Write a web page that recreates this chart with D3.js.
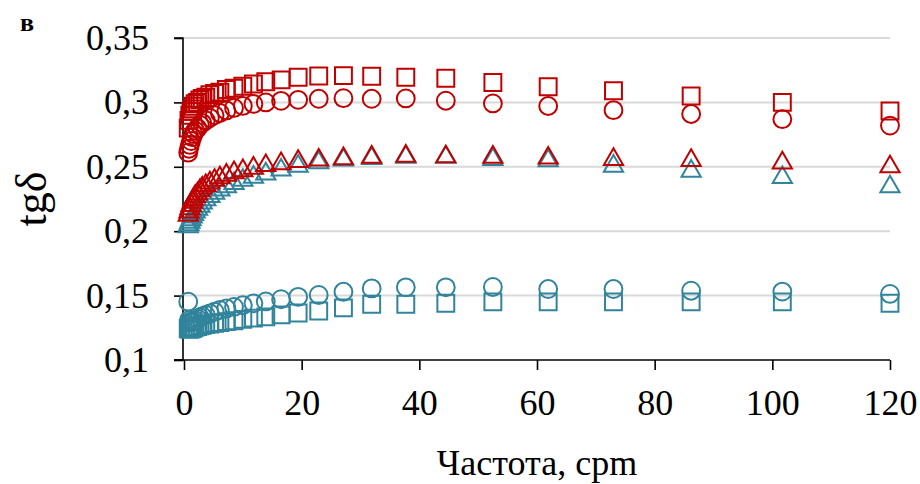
<!DOCTYPE html>
<html>
<head>
<meta charset="utf-8">
<script src="https://cdn.jsdelivr.net/npm/d3@7"></script>
<style>
  html, body { margin: 0; padding: 0; background: #fff; }
  svg { display: block; font-family: "Liberation Serif", "Times New Roman", serif; }
</style>
</head>
<body>
<svg id="chart" width="920" height="484"></svg>
<script>
// Frequency sweep, cpm
const freq = [0.72, 0.85, 1.0, 1.2, 1.4, 1.6, 1.9, 2.3, 2.7, 3.1, 3.7, 4.4, 5.2, 6.1, 7.2, 8.5,
  10.0, 11.8, 13.9, 16.5, 19.4, 22.9, 27.1, 31.9, 37.7, 44.5, 52.5, 61.9, 73.0, 86.2, 101.7, 120];

// Loss tangent, red group
const redSquare = [0.280, 0.286, 0.290, 0.293, 0.295, 0.297, 0.299, 0.300, 0.302, 0.303, 0.304, 0.306,
  0.307, 0.308, 0.310, 0.311, 0.3125, 0.3143, 0.316, 0.3175, 0.3195, 0.3205, 0.3208, 0.3203, 0.3195,
  0.3187, 0.3155, 0.3122, 0.309, 0.305, 0.300, 0.2933];
const redCircle = [0.261, 0.264, 0.267, 0.270, 0.273, 0.2755, 0.278, 0.280, 0.2825, 0.284, 0.286, 0.288,
  0.290, 0.2918, 0.2938, 0.2957, 0.2973, 0.2988, 0.300, 0.3012, 0.302, 0.3028, 0.3033, 0.3028, 0.3031,
  0.3013, 0.2992, 0.2972, 0.294, 0.291, 0.287, 0.282];
const redTriangle = [0.2125, 0.215, 0.2175, 0.220, 0.2225, 0.2245, 0.227, 0.229, 0.2315, 0.2335, 0.2355,
  0.2375, 0.2395, 0.2415, 0.2435, 0.2455, 0.247, 0.249, 0.251, 0.2525, 0.2542, 0.2553, 0.2563, 0.2575,
  0.2583, 0.2578, 0.2575, 0.2568, 0.2558, 0.255, 0.253, 0.250];

// Loss tangent, teal group
const tealTriangle = [0.2035, 0.205, 0.207, 0.209, 0.211, 0.213, 0.215, 0.217, 0.2195, 0.222, 0.2245,
  0.227, 0.2295, 0.232, 0.2345, 0.237, 0.2395, 0.242, 0.2445, 0.2475, 0.2505, 0.2532, 0.2553, 0.2565,
  0.2575, 0.2575, 0.2558, 0.2548, 0.2505, 0.2466, 0.2417, 0.2345];
const tealCircle = [0.1453, 0.131, 0.1295, 0.129, 0.1295, 0.130, 0.131, 0.132, 0.133, 0.134, 0.135,
  0.1362, 0.1375, 0.1388, 0.140, 0.1412, 0.1425, 0.144, 0.1455, 0.1472, 0.149, 0.1505, 0.153, 0.1556,
  0.1564, 0.1564, 0.1567, 0.1551, 0.1551, 0.1538, 0.1531, 0.1513];
const tealSquare = [0.1245, 0.124, 0.124, 0.1242, 0.1245, 0.125, 0.1255, 0.126, 0.1265, 0.127, 0.1275,
  0.128, 0.1285, 0.129, 0.1298, 0.1305, 0.1315, 0.1325, 0.1335, 0.135, 0.1365, 0.138, 0.1405, 0.1433,
  0.1433, 0.1441, 0.1451, 0.1451, 0.1451, 0.1451, 0.1451, 0.1441];

const xTicks = [0, 20, 40, 60, 80, 100, 120];
const yTicks = [0.1, 0.15, 0.2, 0.25, 0.3, 0.35];

const RED = "#C00000";
const TEAL = "#31849B";

const series = [
  { values: tealCircle, color: TEAL, shape: "circle" },
  { values: tealSquare, color: TEAL, shape: "square" },
  { values: tealTriangle, color: TEAL, shape: "triangle" },
  { values: redSquare, color: RED, shape: "square" },
  { values: redCircle, color: RED, shape: "circle" },
  { values: redTriangle, color: RED, shape: "triangle" }
];

const svg = d3.select("#chart");
const x = d3.scaleLinear().domain([0, 120]).range([184, 890]);
const y = d3.scaleLinear().domain([0.1, 0.35]).range([360, 38]);
const fmt = v => String(v).replace(".", ",");
const SERIF = "'Liberation Serif', 'Times New Roman', serif";

// Horizontal gridlines
svg.append("g").selectAll("line").data(yTicks.filter(v => v > 0.1)).join("line")
  .attr("x1", x(0)).attr("x2", x(120))
  .attr("y1", d => y(d)).attr("y2", d => y(d))
  .attr("stroke", "#d9d9d9").attr("stroke-width", 2);

// Axes
const yAxis = svg.append("g").attr("transform", `translate(${x(0) - 1},0)`)
  .call(d3.axisLeft(y).tickValues(yTicks).tickFormat(fmt).tickSize(9).tickPadding(25));
const xAxis = svg.append("g").attr("transform", `translate(0,${y(0.1)})`)
  .call(d3.axisBottom(x).tickValues(xTicks).tickSize(10).tickPadding(19));
[yAxis, xAxis].forEach(a => {
  a.select(".domain").attr("stroke", "#000").attr("stroke-width", 1.6);
  a.selectAll(".tick line").attr("stroke", "#000").attr("stroke-width", 1.6);
  a.selectAll("text").attr("fill", "#000").style("font-size", "36px").style("font-family", SERIF);
});
yAxis.select(".domain").attr("d", `M-9,${y(0.35)}H0V${y(0.1)}H-9`);
xAxis.select(".domain").attr("d", `M${x(0) - 10},0H${x(120)}`);

// Markers
const shapes = { circle: d3.symbolCircle, square: d3.symbolSquare, triangle: d3.symbolTriangle };
const sizes = { circle: 250, square: 285, triangle: 160 };
const marks = svg.append("g");
series.forEach(s => {
  const sym = d3.symbol().type(shapes[s.shape]).size(sizes[s.shape]);
  marks.append("g").selectAll("path").data(freq).join("path")
    .attr("d", sym)
    .attr("transform", (f, i) => `translate(${x(f)},${y(s.values[i])})`)
    .attr("fill", "none").attr("stroke", s.color).attr("stroke-width", 2);
});

// Axis titles
svg.append("text").attr("x", (x(0) + x(120)) / 2).attr("y", 475)
  .attr("text-anchor", "middle").style("font-size", "36px").text("Частота, cpm");
svg.append("text").attr("transform", `translate(46,${(y(0.1) + y(0.35)) / 2}) rotate(-90)`)
  .attr("text-anchor", "middle").style("font-size", "44px").text("tgδ");
svg.append("text").attr("x", 20).attr("y", 31)
  .style("font-size", "26px").style("font-weight", "bold").text("в");
</script>
</body>
</html>
